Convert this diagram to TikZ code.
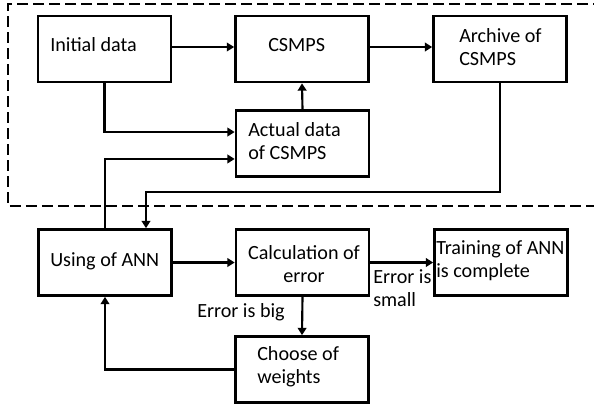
\documentclass[tikz,border=0pt]{standalone}
\usepackage{fontspec}
\setmainfont{Carlito}
\usetikzlibrary{arrows.meta}
\begin{document}
\begin{tikzpicture}[
  x=0.75pt, y=-0.75pt,
  box/.style={draw, line width=2pt, minimum width=99.75pt, minimum height=49.5pt, inner sep=0pt},
  txt/.style={inner sep=0pt, anchor=base west, align=left, font=\fontsize{15.1}{17.25}\selectfont},
  arr/.style={line width=1.6pt, -{Triangle[length=5.5pt,width=6.5pt]}},
  frame/.style={line width=2pt, dash pattern=on 8.25pt off 3.75pt}
]
\useasboundingbox (0,0) rectangle (594,405);

% dashed frame around the data block (open on the right)
\draw[frame] (620,4) -- (8,4) -- (8,206) -- (620,206);

% boxes
\node[box] (init)    at (104.5,49)  {};
\node[box] (csmps)   at (302,49)    {};
\node[box] (archive) at (500,49)    {};
\node[box] (actual)  at (302.5,143.5) {};
\node[box] (using)   at (105,262.5) {};
\node[box] (calc)    at (302.5,262.5) {};
\node[box] (train)   at (501,262.5) {};
\node[box] (choose)  at (302,369.5) {};

% box texts (base anchor sits on the last line)
\node[txt] (t-init)    at (50,51)   {Initial data};
\node[txt] (t-csmps)   at (268,51)  {CSMPS};
\node[txt] (t-archive) at (459,65)  {Archive of\\CSMPS};
\node[txt] (t-actual)  at (248,159) {Actual data\\of CSMPS};
\node[txt] (t-using)   at (50,266.5) {Using of ANN};
\node[txt, align=center, anchor=base] (t-calc) at (304,282) {Calculation of\\error};
\node[txt] (t-train)   at (436,277) {Training of ANN\\is complete};
\node[txt] (t-choose)  at (257,383) {Choose of\\weights};

% edge labels
\node[txt] (l-small) at (373,306) {Error is\\small};
\node[txt] (l-big)   at (197,317) {Error is big};

% connectors
\coordinate (ret) at (146,192);
\draw[arr, line width=1pt] ([yshift=1.5pt]init.east) -- ([yshift=1.5pt]csmps.west);
\draw[arr] ([yshift=1.5pt]csmps.east) -- ([yshift=1.5pt]archive.west);
\draw[arr] (init.south) |- ([yshift=8.6pt]actual.west);
\draw[arr] (using.north) |- ([yshift=-11.6pt]actual.west);
\draw[arr] (actual.north) -- (csmps.south);
\draw[arr] (archive.south) |- (ret) -- (ret |- using.north);
\draw[arr] (using.east) -- (calc.west);
\draw[arr] (calc.east) -- (train.west);
\draw[arr] (calc.south) -- (choose.north);
\draw[arr] (choose.west) -| (using.south);
\end{tikzpicture}
\end{document}
